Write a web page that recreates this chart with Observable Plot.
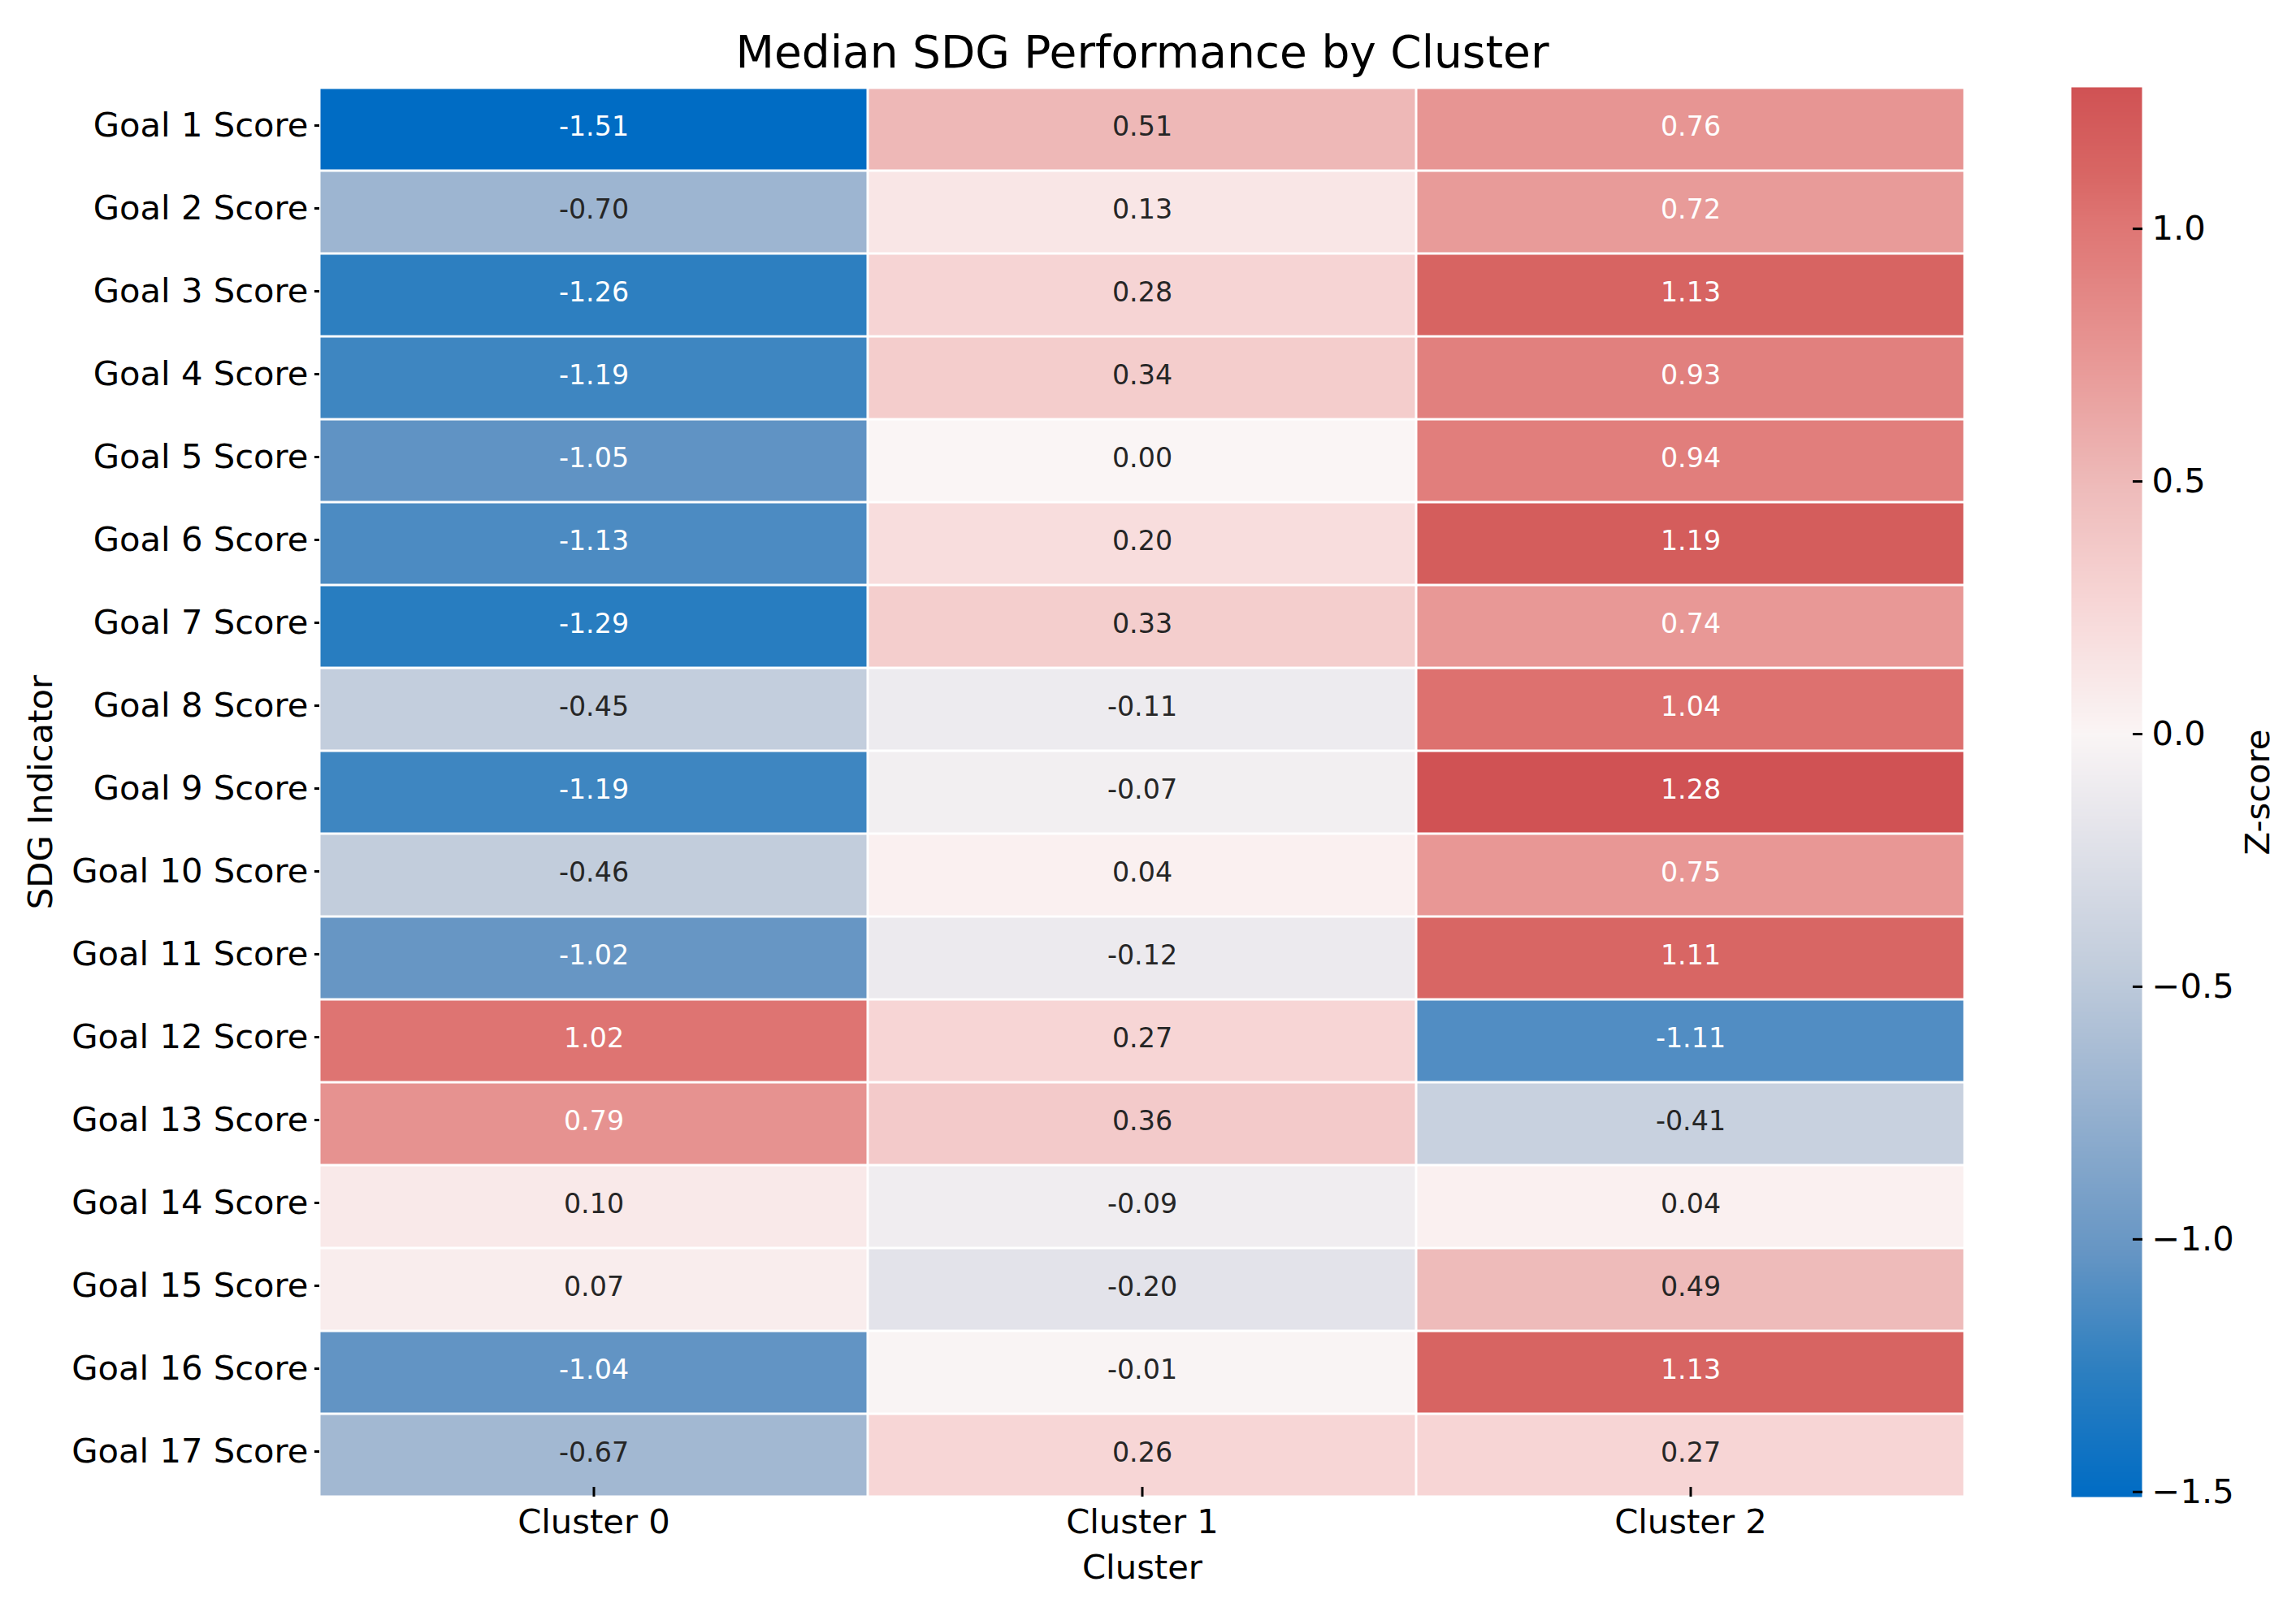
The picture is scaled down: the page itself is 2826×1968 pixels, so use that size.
<!DOCTYPE html>
<html>
<head>
<meta charset="utf-8">
<script src="https://cdn.jsdelivr.net/npm/d3@7"></script>
<script src="https://cdn.jsdelivr.net/npm/@observablehq/plot@0.6"></script>
<style>
  html, body { margin: 0; padding: 0; background: #fff; }
  #wrap { position: relative; width: 2826px; height: 1968px; background: #fff; }
  #wrap svg { position: absolute; top: 0; max-width: none; }
</style>
</head>
<body>
<div id="wrap"></div>
<script>
// ---------- data ----------
const goals = [
  "Goal 1 Score", "Goal 2 Score", "Goal 3 Score", "Goal 4 Score", "Goal 5 Score",
  "Goal 6 Score", "Goal 7 Score", "Goal 8 Score", "Goal 9 Score", "Goal 10 Score",
  "Goal 11 Score", "Goal 12 Score", "Goal 13 Score", "Goal 14 Score", "Goal 15 Score",
  "Goal 16 Score", "Goal 17 Score"
];
const clusters = ["Cluster 0", "Cluster 1", "Cluster 2"];
const cluster0 = [-1.51, -0.70, -1.26, -1.19, -1.05, -1.13, -1.29, -0.45, -1.19, -0.46, -1.02, 1.02, 0.79, 0.10, 0.07, -1.04, -0.67];
const cluster1 = [0.51, 0.13, 0.28, 0.34, 0.00, 0.20, 0.33, -0.11, -0.07, 0.04, -0.12, 0.27, 0.36, -0.09, -0.20, -0.01, 0.26];
const cluster2 = [0.76, 0.72, 1.13, 0.93, 0.94, 1.19, 0.74, 1.04, 1.28, 0.75, 1.11, -1.11, -0.41, 0.04, 0.49, 1.13, 0.27];
const colorbarTicks = [-1.5, -1.0, -0.5, 0.0, 0.5, 1.0];
const titleText = "Median SDG Performance by Cluster";
const xLabel = "Cluster";
const yLabel = "SDG Indicator";
const colorLabel = "Z-score";

// ---------- table ----------
const series = [cluster0, cluster1, cluster2];
const cells = goals.flatMap((g, i) => clusters.map((c, j) => ({goal: g, cluster: c, value: series[j][i]})));
const vmin = d3.min(cells, d => d.value);
const vmax = d3.max(cells, d => d.value);

// colour map (piecewise, centred on 0)
const colorOpts = {
  type: "linear",
  domain: [vmin, -1.26, -1.02, -0.70, -0.46, -0.20, 0, 0.26, 0.49, 0.74, 1.02, 1.11, vmax],
  range: ["#006cc4", "#2d7fc0", "#6796c4", "#9db5d1", "#c2cddc", "#e3e3ea", "#faf5f5",
          "#f7d6d6", "#eebbba", "#e89896", "#de7472", "#d86664", "#d05254"],
  interpolate: "rgb",
  clamp: true
};

const FONT = "DejaVu Sans, sans-serif";
const TICK_FS = 41.7;
const ANNOT_FS = 33.3;
const TITLE_FS = 55;
const textColor = d => (d.value <= -0.85 || d.value >= 0.6) ? "#ffffff" : "#262626";

const main = Plot.plot({
  width: 2826,
  height: 1968,
  marginLeft: 393,
  marginRight: 408,
  marginTop: 107,
  marginBottom: 126,
  style: {fontFamily: FONT, fontSize: TICK_FS + "px", color: "#000", background: "transparent"},
  x: {type: "band", domain: clusters, padding: 0, axis: null},
  y: {type: "band", domain: goals, padding: 0, axis: null},
  color: colorOpts,
  marks: [
    Plot.cell(cells, {x: "cluster", y: "goal", fill: "value", inset: 1.5}),
    Plot.text(cells, {
      x: "cluster", y: "goal",
      text: d => d.value.toFixed(2),
      fill: textColor,
      fontSize: ANNOT_FS,
      dy: -3
    }),
    Plot.axisX({anchor: "bottom", tickSize: -12, tickPadding: 27, fontSize: TICK_FS, strokeWidth: 3, label: null, fill: "#000"}),
    Plot.axisY({anchor: "left", tickSize: 6, tickPadding: 8, fontSize: TICK_FS, strokeWidth: 3, label: null, fill: "#000", dy: -5}),
    Plot.text([titleText], {frameAnchor: "top", dy: -42, lineAnchor: "middle", text: d => d, fontSize: TITLE_FS, fill: "#000"}),
    Plot.text([xLabel], {frameAnchor: "bottom", dy: 71, lineAnchor: "top", text: d => d, fontSize: TICK_FS, fill: "#000"}),
    Plot.text([yLabel], {frameAnchor: "left", dx: -343, rotate: -90, textAnchor: "middle", lineAnchor: "middle", text: d => d, fontSize: TICK_FS, fill: "#000"})
  ]
});

const colorbar = Plot.plot({
  width: 277,
  height: 1968,
  marginLeft: 0,
  marginRight: 190,
  marginTop: 107,
  marginBottom: 126,
  style: {fontFamily: FONT, fontSize: TICK_FS + "px", color: "#000", background: "transparent"},
  x: {domain: [0, 1], axis: null},
  y: {domain: [vmin, vmax], axis: null},
  color: colorOpts,
  marks: [
    Plot.raster({x1: 0, x2: 1, y1: vmin, y2: vmax, width: 2, height: 700, fill: (x, y) => y}),
    Plot.axisY({
      anchor: "right", ticks: colorbarTicks, tickFormat: d3.format(".1f"),
      tickSize: -12, tickPadding: 24, fontSize: TICK_FS, strokeWidth: 3, label: null, fill: "#000"
    }),
    Plot.text([colorLabel], {frameAnchor: "right", dx: 143, rotate: -90, textAnchor: "middle", lineAnchor: "middle", text: d => d, fontSize: TICK_FS, fill: "#000"})
  ]
});

const wrap = document.getElementById("wrap");
main.style.left = "0px";
colorbar.style.left = "2549px";
wrap.appendChild(main);
wrap.appendChild(colorbar);
</script>
</body>
</html>
